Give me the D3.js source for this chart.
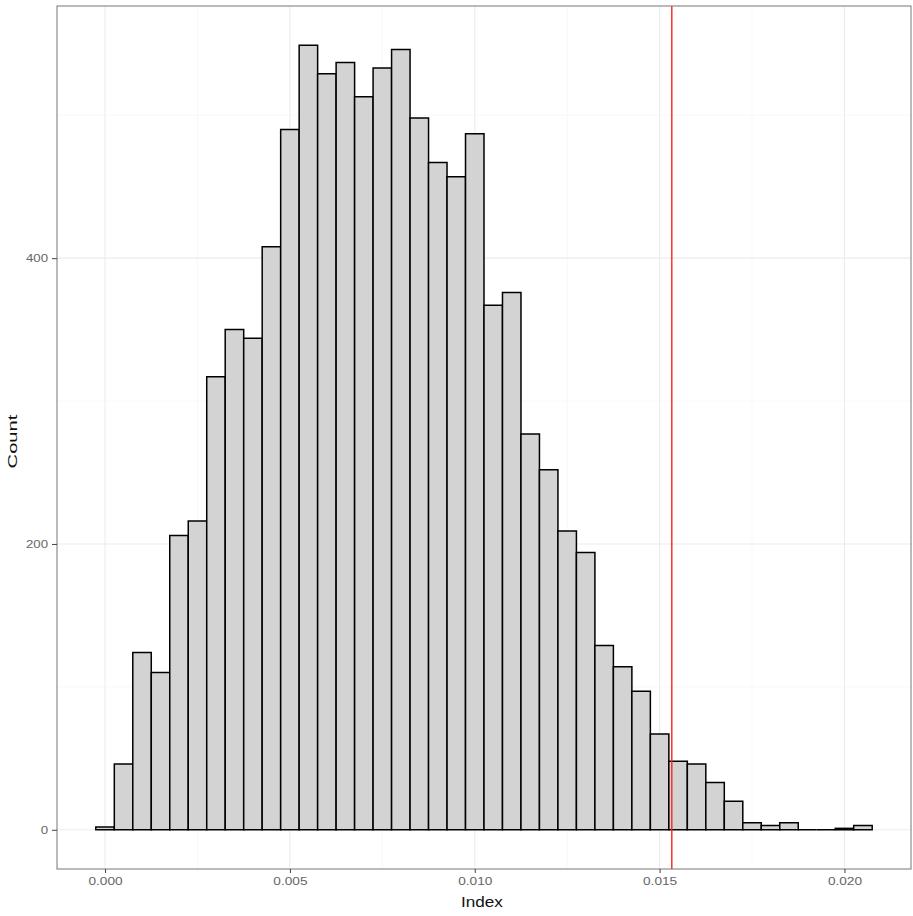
<!DOCTYPE html>
<html>
<head>
<meta charset="utf-8">
<script src="https://cdn.jsdelivr.net/npm/d3@7"></script>
<style>
    body { margin: 0; background: #fff; }
    text { font-family: "Liberation Sans", Arial, sans-serif; }
</style>
</head>
<body>
<div id="chart"></div>
<script>
//histogram data: bin centres and counts
const bin_mid = [0.0000, 0.0005, 0.0010, 0.0015, 0.0020, 0.0025, 0.0030, 0.0035, 0.0040, 0.0045,
    0.0050, 0.0055, 0.0060, 0.0065, 0.0070, 0.0075, 0.0080, 0.0085, 0.0090, 0.0095,
    0.0100, 0.0105, 0.0110, 0.0115, 0.0120, 0.0125, 0.0130, 0.0135, 0.0140, 0.0145,
    0.0150, 0.0155, 0.0160, 0.0165, 0.0170, 0.0175, 0.0180, 0.0185, 0.0190, 0.0195,
    0.0200, 0.0205]
const counts = [2, 46, 124, 110, 206, 216, 317, 350, 344, 408,
    490, 549, 529, 537, 513, 533, 546, 498, 467, 457,
    487, 367, 376, 277, 252, 209, 194, 129, 114, 97,
    67, 48, 46, 33, 20, 5, 3, 5, 0, 0,
    1, 3]
const bin_width = 0.0005
const cutoff = 0.01533
const x_ticks = [0, 0.005, 0.010, 0.015, 0.020]
const x_minor = [0.0025, 0.0075, 0.0125, 0.0175]
const y_ticks = [0, 200, 400]
const y_minor = [100, 300, 500]

//set margins height and width
const margin = { top: 6, right: 2, bottom: 47, left: 57 },
    complete_width = 913,
    complete_height = 916,
    width = complete_width - margin.left - margin.right,
    height = complete_height - margin.top - margin.bottom;

const svg = d3.select("#chart")
    .append("svg")
    .attr("width", complete_width)
    .attr("height", complete_height)

const g = svg.append("g")
    .attr("transform", `translate(${margin.left},${margin.top})`)

//scales with ggplot style 5% expansion
const x_lo = d3.min(bin_mid) - bin_width / 2,
    x_hi = d3.max(bin_mid) + bin_width / 2,
    x_pad = (x_hi - x_lo) * 0.05
const x = d3.scaleLinear()
    .domain([x_lo - x_pad, x_hi + x_pad])
    .range([0, width])
const y_max = d3.max(counts)
const y = d3.scaleLinear()
    .domain([-y_max * 0.05, y_max * 1.05])
    .range([height, 0])

//grid lines
g.append("g").selectAll("line")
    .data(x_minor)
    .join("line")
    .attr("x1", d => x(d)).attr("x2", d => x(d))
    .attr("y1", 0).attr("y2", height)
    .attr("stroke", "#f4f4f4").attr("stroke-width", 0.6)
g.append("g").selectAll("line")
    .data(y_minor)
    .join("line")
    .attr("x1", 0).attr("x2", width)
    .attr("y1", d => y(d)).attr("y2", d => y(d))
    .attr("stroke", "#f4f4f4").attr("stroke-width", 0.6)
g.append("g").selectAll("line")
    .data(x_ticks)
    .join("line")
    .attr("x1", d => x(d)).attr("x2", d => x(d))
    .attr("y1", 0).attr("y2", height)
    .attr("stroke", "#ececec").attr("stroke-width", 1.1)
g.append("g").selectAll("line")
    .data(y_ticks)
    .join("line")
    .attr("x1", 0).attr("x2", width)
    .attr("y1", d => y(d)).attr("y2", d => y(d))
    .attr("stroke", "#ececec").attr("stroke-width", 1.1)

//bars as closed paths so empty bins still show their outline
g.append("g").selectAll("path")
    .data(bin_mid)
    .join("path")
    .attr("d", (d, i) => {
        const x0 = x(d - bin_width / 2), x1 = x(d + bin_width / 2)
        const y0 = y(0), y1 = y(counts[i])
        return `M${x0},${y0}V${y1}H${x1}V${y0}Z`
    })
    .attr("fill", "#d3d3d3")
    .attr("stroke", "#000")
    .attr("stroke-width", 1.5)

//cutoff line
g.append("line")
    .attr("x1", x(cutoff)).attr("x2", x(cutoff))
    .attr("y1", 0).attr("y2", height)
    .attr("stroke", "#ff2020")
    .attr("stroke-width", 1.4)

//panel border
g.append("rect")
    .attr("width", width)
    .attr("height", height)
    .attr("fill", "none")
    .attr("stroke", "#777")
    .attr("stroke-width", 1)

//axes
const x_axis = g.append("g")
    .attr("transform", `translate(0,${height})`)
    .call(d3.axisBottom(x).tickValues(x_ticks).tickFormat(d3.format(".3f")).tickSize(4).tickPadding(5))
const y_axis = g.append("g")
    .call(d3.axisLeft(y).tickValues(y_ticks).tickSize(5).tickPadding(4))
for (const ax of [x_axis, y_axis]) {
    ax.select(".domain").remove()
    ax.selectAll(".tick line").attr("stroke", "#444")
    ax.selectAll(".tick text")
        .attr("fill", "#666")
        .style("font-family", "'Liberation Sans', Arial, sans-serif")
}
x_axis.selectAll(".tick text").style("font-size", "10.5px")
y_axis.selectAll(".tick text").style("font-size", "11px")

//axis titles
svg.append("text")
    .attr("class", "xtitle")
    .attr("x", margin.left + width / 2 - 2)
    .attr("y", 907)
    .attr("text-anchor", "middle")
    .style("font-size", "14.5px")
    .attr("fill", "#111")
    .text("Index")
svg.append("text")
    .attr("class", "ytitle")
    .attr("transform", `translate(16.5,${margin.top + height / 2 + 4}) rotate(-90)`)
    .attr("text-anchor", "middle")
    .style("font-size", "13px")
    .attr("fill", "#111")
    .text("Count")

//stretch text horizontally like the reference
function stretch(sel, f) {
    sel.each(function () {
        const len = this.getComputedTextLength()
        d3.select(this).attr("textLength", len * f).attr("lengthAdjust", "spacingAndGlyphs")
    })
}
stretch(x_axis.selectAll(".tick text"), 1.3)
stretch(y_axis.selectAll(".tick text"), 1.2)
stretch(svg.select(".xtitle"), 1.18)
stretch(svg.select(".ytitle"), 1.55)
</script>
</body>
</html>
